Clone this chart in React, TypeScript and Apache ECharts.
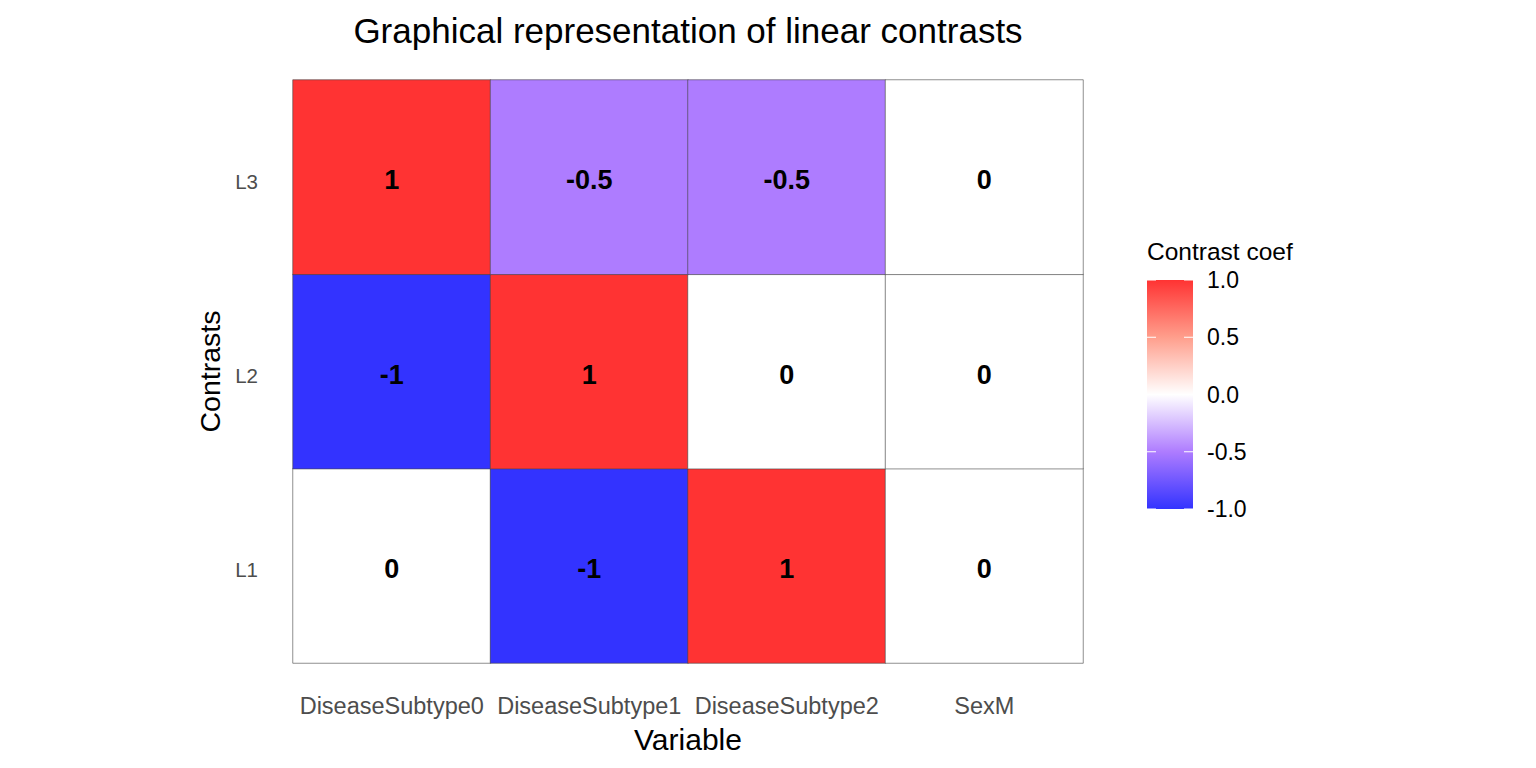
import React, { useEffect, useRef } from "react";
import * as echarts from "echarts";

const variables = ["DiseaseSubtype0", "DiseaseSubtype1", "DiseaseSubtype2", "SexM"];
const contrasts = ["L1", "L2", "L3"];
// coefficient rows, one per contrast (L1, L2, L3), in variable order
const L1 = [0, -1, 1, 0];
const L2 = [-1, 1, 0, 0];
const L3 = [1, -0.5, -0.5, 0];
const legendTicks = [1.0, 0.5, 0.0, -0.5, -1.0];
const colorStops: [number, string][] = [
  [-1, "#3333FF"],
  [-0.5, "#AE7CFF"],
  [0, "#FFFFFF"],
  [0.5, "#FF9E8C"],
  [1, "#FF3333"],
];

const FONT = "Liberation Sans, Arial, Helvetica, sans-serif";

export default function App() {
  const ref = useRef<HTMLDivElement>(null);
  useEffect(() => {
    if (!ref.current) return;
    const chart = echarts.init(ref.current, null, { renderer: "svg" });
    const rows = [L1, L2, L3];
    const data: [number, number, number][] = [];
    rows.forEach((row, yi) => row.forEach((v, xi) => data.push([xi, yi, v])));

    const gridLeft = 293, gridRight = 1083, gridTop = 80, gridBottom = 663;

    // legend geometry
    const lgX = 1147, lgY = 280, lgW = 46, lgH = 229;
    const gradStops = colorStops
      .slice()
      .reverse()
      .map(([v, c]) => ({ offset: (1 - v) / 2, color: c }));
    const legendElems: any[] = [
      {
        type: "rect",
        shape: { x: lgX, y: lgY, width: lgW, height: lgH },
        style: { fill: new echarts.graphic.LinearGradient(0, 0, 0, 1, gradStops) },
      },
      {
        type: "text",
        style: { x: lgX, y: 251, text: "Contrast coef", font: `24.5px ${FONT}`, fill: "#000", textVerticalAlign: "middle" },
      },
    ];
    legendTicks.forEach((t) => {
      const y = lgY + ((1 - t) / 2) * lgH;
      legendElems.push(
        { type: "line", shape: { x1: lgX, y1: y, x2: lgX + 9, y2: y }, style: { stroke: "#fff", lineWidth: 1 } },
        { type: "line", shape: { x1: lgX + lgW - 9, y1: y, x2: lgX + lgW, y2: y }, style: { stroke: "#fff", lineWidth: 1 } },
        {
          type: "text",
          style: { x: 1207, y, text: t.toFixed(1), font: `23px ${FONT}`, fill: "#000", textVerticalAlign: "middle" },
        }
      );
    });

    chart.setOption({
      animation: false,
      backgroundColor: "#fff",
      grid: { left: gridLeft, right: 1536 - gridRight, top: gridTop, bottom: 768 - gridBottom },
      xAxis: {
        type: "category",
        data: variables,
        axisLine: { show: false },
        axisTick: { show: false },
        splitLine: { show: false },
        axisLabel: { color: "#4d4d4d", fontSize: 23.5, fontFamily: FONT, margin: 31, interval: 0 },
        name: "Variable",
        nameLocation: "middle",
        nameGap: 61,
        nameTextStyle: { color: "#000", fontSize: 30, fontFamily: FONT },
      },
      yAxis: {
        type: "category",
        data: contrasts,
        axisLine: { show: false },
        axisTick: { show: false },
        splitLine: { show: false },
        axisLabel: {
          margin: 35,
          formatter: (v: string) => `{a|${v}}`,
          rich: { a: { color: "#4d4d4d", fontSize: 20.5, fontFamily: FONT, padding: [8, 0, 0, 0] } },
        },
        name: "Contrasts",
        nameLocation: "middle",
        nameGap: 69,
        nameTextStyle: { color: "#000", fontSize: 28.5, fontFamily: FONT },
      },
      visualMap: {
        show: false,
        type: "piecewise",
        dimension: 2,
        pieces: colorStops.map(([v, c]) => ({ value: v, color: c })),
      },
      series: [
        {
          type: "heatmap",
          data,
          itemStyle: { borderColor: "#444", borderWidth: 0.6 },
          label: {
            show: true,
            formatter: (p: any) => String(p.value[2]),
            color: "#000",
            fontSize: 27,
            fontWeight: "bold",
            fontFamily: FONT,
            offset: [0, 3],
          },
          emphasis: { disabled: true },
        },
      ],
      graphic: [
        {
          type: "text",
          style: {
            x: (gridLeft + gridRight) / 2,
            y: 30,
            text: "Graphical representation of linear contrasts",
            font: `35px ${FONT}`,
            fill: "#000",
            textAlign: "center",
            textVerticalAlign: "middle",
          },
        },
        ...legendElems,
      ],
    });
    return () => chart.dispose();
  }, []);
  return <div ref={ref} style={{ position: "absolute", left: 0, top: 0, width: 1536, height: 768 }} />;
}
